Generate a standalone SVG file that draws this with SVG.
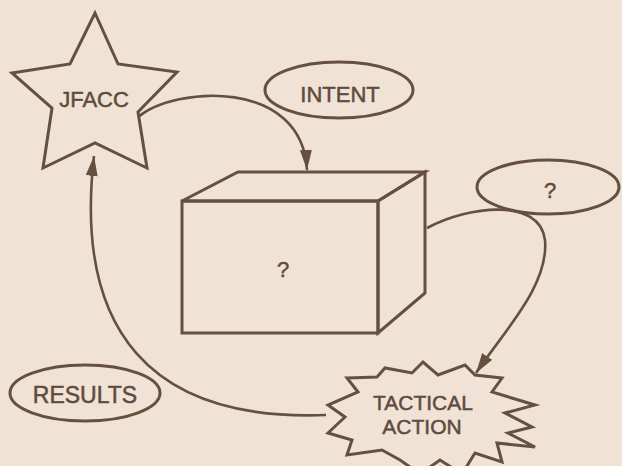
<svg xmlns="http://www.w3.org/2000/svg" width="622" height="466" viewBox="0 0 622 466">
<defs>
<style>
.sh{fill:none;stroke:#65503f;stroke-width:3;stroke-linejoin:miter}
.cn{fill:none;stroke:#65503f;stroke-width:2.6}
.t{font-family:"Liberation Sans",Arial,sans-serif;font-size:22px;fill:#5e4b3f;stroke:#5e4b3f;stroke-width:0.5;text-anchor:middle}
</style>
<marker id="ah" markerUnits="userSpaceOnUse" markerWidth="22" markerHeight="14" refX="20" refY="6" orient="auto">
<path d="M0,0 L20,6 L0,12 Z" fill="#65503f"/>
</marker>
</defs>
<rect width="622" height="466" fill="#f1e2d6"/>
<g id="connectors">
<path class="cn" d="M138,117 C175,86 302,78 307,170" marker-end="url(#ah)"/>
<path class="cn" d="M427,228 C470,205 540,198 545,240 C549,285 505,330 476,373" marker-end="url(#ah)"/>
<path class="cn" d="M326,415 C150,422 74,330 94,156" marker-end="url(#ah)"/>
</g>
<g id="jfacc">
<polygon class="sh" points="95,13 118,64 177,72 138,112 147,168 95,143 43,168 52,108 12,73 70,64"/>
<text class="t" x="94" y="107">JFACC</text>
</g>
<g id="intent">
<ellipse class="sh" cx="339" cy="90" rx="74" ry="28" fill="#f1e2d6"/>
<text class="t" x="340" y="102">INTENT</text>
</g>
<g id="box">
<polygon class="sh" points="182,201 238,172 425,172 378,201" fill="#f1e2d6"/>
<polygon class="sh" points="378,201 425,172 425,293 378,333" fill="#f1e2d6"/>
<rect class="sh" x="182" y="201" width="196" height="132" fill="#f1e2d6"/>
<text class="t" x="283" y="277">?</text>
</g>
<g id="unknown">
<ellipse class="sh" cx="548" cy="187" rx="71" ry="27"/>
<text class="t" x="550" y="198">?</text>
</g>
<g id="results">
<ellipse class="sh" cx="85" cy="393" rx="75" ry="28"/>
<text class="t" x="85" y="403" style="font-size:23px">RESULTS</text>
</g>
<g id="tactical">
<polygon class="sh" fill="#f1e2d6" points="347,378 377,377 385,368 412,373 423,362 438,375 465,365 475,375 502,378 492,392 535,405 505,413 532,427 508,433 535,447 497,443 502,462 475,453 462,474 440,460 420,474 400,460 382,450 347,455 352,440 328,433 345,417 328,405 358,392"/>
<text class="t" x="423" y="410" style="font-size:21px">TACTICAL</text>
<text class="t" x="422" y="434" style="font-size:21px">ACTION</text>
</g>
</svg>
